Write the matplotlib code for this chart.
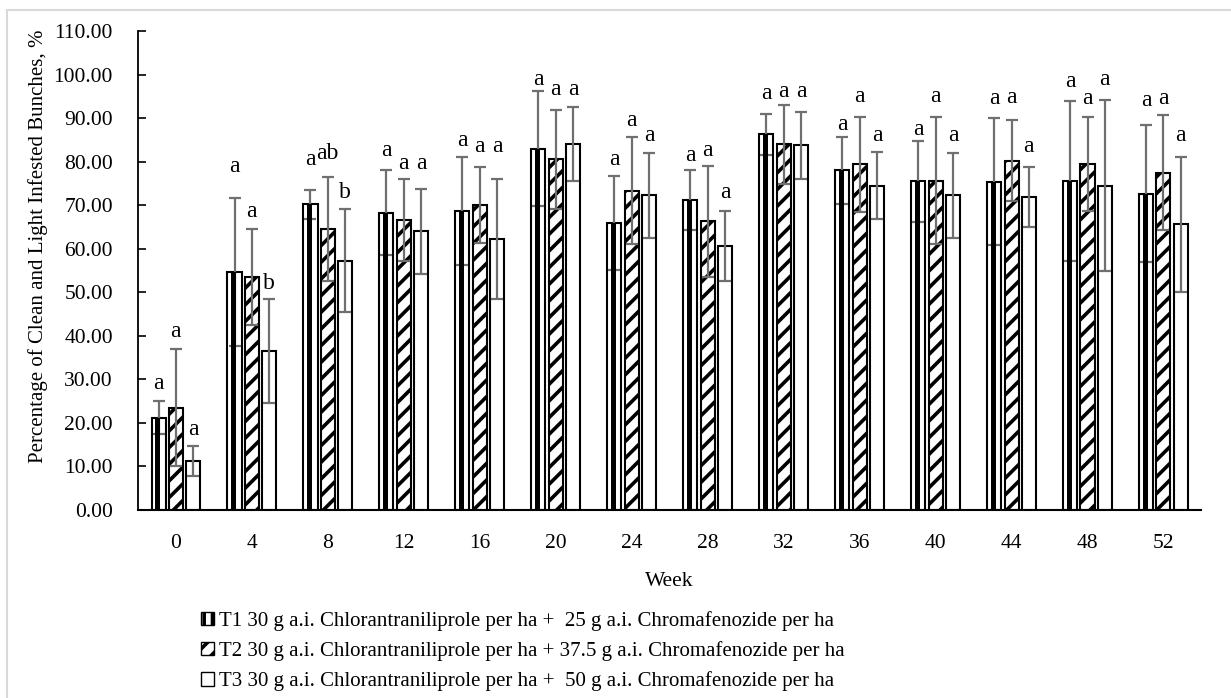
import numpy as np
import matplotlib
matplotlib.use("Agg")
import matplotlib.pyplot as plt
from matplotlib.patches import Patch, Rectangle


# values
weeks = ["0", "4", "8", "12", "16", "20", "24", "28", "32", "36", "40", "44", "48", "52"]

t1_mean = [21.2, 54.7, 70.2, 68.3, 68.8, 83.0, 65.9, 71.2, 86.3, 78.0, 75.5, 75.4, 75.6, 72.7]
t1_err = [3.8, 17.0, 3.3, 9.7, 12.4, 13.2, 10.8, 6.8, 4.7, 7.7, 9.3, 14.6, 18.4, 15.8]
t2_mean = [23.5, 53.5, 64.5, 66.6, 70.0, 80.6, 73.4, 66.3, 84.0, 79.4, 75.7, 80.2, 79.5, 77.5]
t2_err = [13.5, 11.0, 12.0, 9.4, 8.7, 11.4, 12.4, 12.7, 9.0, 10.9, 14.6, 9.3, 10.7, 13.2]
t3_mean = [11.3, 36.5, 57.3, 64.0, 62.2, 84.0, 72.3, 60.7, 83.8, 74.5, 72.3, 71.9, 74.5, 65.7]
t3_err = [3.5, 12.0, 11.9, 9.7, 13.8, 8.5, 9.7, 8.1, 7.7, 7.7, 9.7, 6.8, 19.7, 15.5]

t1_letters = ["a"] * 14
t2_letters = ["a", "a", "ab", "a", "a", "a", "a", "a", "a", "a", "a", "a", "a", "a"]
t3_letters = ["a", "b", "b", "a", "a", "a", "a", "a", "a", "a", "a", "a", "a", "a"]

# heights where the significance letters sit
t1_label_y = [29, 79, 80.5, 82.5, 85, 99, 80.5, 81.5, 95.8, 88.5, 87.5, 94.5, 98.5, 94]
t2_label_y = [41, 68.5, 82, 79.5, 83.5, 96.5, 89.5, 82.5, 96.2, 95, 95, 94.8, 94.5, 94.5]
t3_label_y = [18.5, 52, 73, 79.5, 83.5, 96.5, 86, 73, 96.2, 86, 86, 83.5, 99, 86]

legend_labels = [
    "T1 30 g a.i. Chlorantraniliprole per ha +  25 g a.i. Chromafenozide per ha",
    "T2 30 g a.i. Chlorantraniliprole per ha + 37.5 g a.i. Chromafenozide per ha",
    "T3 30 g a.i. Chlorantraniliprole per ha +  50 g a.i. Chromafenozide per ha",
]

plt.rcParams["font.family"] = ["Liberation Serif", "DejaVu Serif"]
plt.rcParams["hatch.linewidth"] = 2.6

fig = plt.figure(figsize=(12.31, 6.98), dpi=100)
ax = fig.add_axes([0.112, 0.2693, 0.864, 0.686])

# light grey chart border like excel
fig.patches.append(Rectangle((0.006, -0.05), 1.1, 1.036, transform=fig.transFigure,
                             fill=False, edgecolor="#d9d9d9", linewidth=1.5))

x = np.arange(len(weeks))
w = 0.185
step = 0.228
err_kw = dict(ecolor="#6f6f6f", elinewidth=1.6, capsize=4.5, capthick=1.6)

ax.bar(x - step, t1_mean, w, color="white", edgecolor="black", linewidth=1.5,
       yerr=t1_err, error_kw=err_kw, zorder=2)
ax.bar(x - step - 0.01, t1_mean, w * 0.38, color="black", linewidth=0, zorder=2.5)
ax.bar(x, t2_mean, w, color="white", edgecolor="black", linewidth=1.5, hatch="//",
       yerr=t2_err, error_kw=err_kw, zorder=2)
ax.bar(x + step, t3_mean, w, color="white", edgecolor="black", linewidth=1.5,
       yerr=t3_err, error_kw=err_kw, zorder=2)

for i in range(len(weeks)):
    ax.text(x[i] - step, t1_label_y[i], t1_letters[i], ha="center", va="center", fontsize=17)
    ax.text(x[i], t2_label_y[i], t2_letters[i], ha="center", va="center", fontsize=17)
    ax.text(x[i] + step, t3_label_y[i], t3_letters[i], ha="center", va="center", fontsize=17)

ax.set_xlim(-0.5, len(weeks) - 0.5)
ax.set_ylim(0, 110)
ax.set_yticks(np.arange(0, 111, 10))
ax.set_yticklabels(["%.2f" % v for v in np.arange(0, 111, 10)])
ax.set_xticks(x)
ax.set_xticklabels(weeks)
ax.tick_params(axis="x", length=0, labelsize=15.5, pad=17)
ax.tick_params(axis="y", direction="in", length=6, width=1.2, labelsize=15.5, pad=18)
ax.spines["top"].set_visible(False)
ax.spines["right"].set_visible(False)
ax.spines["left"].set_linewidth(1.3)
ax.spines["bottom"].set_linewidth(1.5)

ax.set_xlabel("Week", fontsize=15.5, va="center")
ax.xaxis.set_label_coords(0.5, -0.150)
ax.set_ylabel("Percentage of Clean and Light Infested Bunches, %", fontsize=15, va="center")
ax.yaxis.set_label_coords(-0.0935, 0.551)

handles = [
    Patch(facecolor="white", edgecolor="black", hatch="||", linewidth=1),
    Patch(facecolor="white", edgecolor="black", hatch="//", linewidth=1),
    Patch(facecolor="white", edgecolor="black", linewidth=1),
]
fig.legend(handles, legend_labels, loc="upper left", bbox_to_anchor=(0.155, 0.14),
           frameon=False, fontsize=15, handlelength=0.6, handleheight=0.6,
           handletextpad=0.25, labelspacing=0.5, borderpad=0)

plt.savefig("out.png", dpi=100)
